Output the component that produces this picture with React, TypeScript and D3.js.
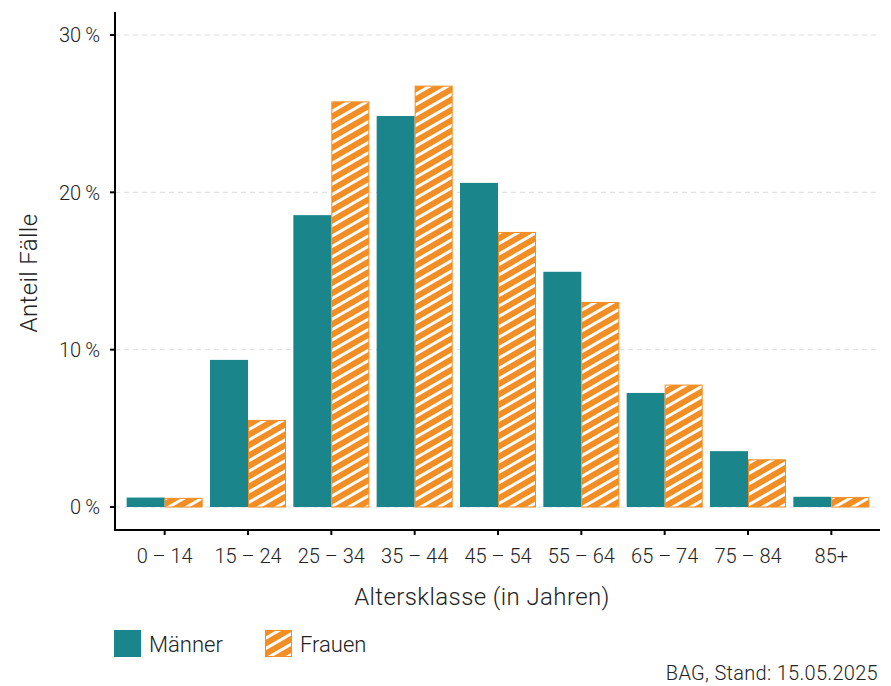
import React from "react";
import * as d3 from "d3";

const categories = ["0 – 14", "15 – 24", "25 – 34", "35 – 44", "45 – 54", "55 – 64", "65 – 74", "75 – 84", "85+"];
const maenner = [0.6, 9.35, 18.55, 24.85, 20.6, 14.95, 7.25, 3.55, 0.65];
const frauen = [0.55, 5.5, 25.75, 26.75, 17.45, 13.0, 7.75, 3.0, 0.6];
const yTicks = [0, 10, 20, 30];
const seriesNames = ["Männer", "Frauen"];

const W = 891, H = 686;
const TEAL = "#1a868c";
const ORANGE = "#f28e23";
const FONT = "Roboto, 'Open Sans', sans-serif";

export default function App() {
  const x = d3.scaleBand<string>().domain(categories).range([123, 873]).paddingInner(0.088).paddingOuter(0.044);
  const sub = d3.scaleBand<string>().domain(seriesNames).range([0, x.bandwidth()]);
  const y = d3.scaleLinear().domain([0, 30]).range([507, 35]);
  const axisX = 115, axisY = 530;
  const series = [maenner, frauen];
  return (
    <svg width={W} height={H} style={{ position: "absolute", left: 0, top: 0 }} fontFamily={FONT}>
      <defs>
        <pattern id="hatch" patternUnits="userSpaceOnUse" width="9" height="9" patternTransform="rotate(-30)">
          <rect width="9" height="9" fill={ORANGE} />
          <rect y="0" width="9" height="3" fill="#ffffff" />
        </pattern>
      </defs>
      <rect width={W} height={H} fill="#fff" />
      {yTicks.map((t) => (
        <line key={t} x1={axisX} x2={880} y1={y(t)} y2={y(t)} stroke="#dcdcdc" strokeWidth={1} strokeDasharray="5,4" />
      ))}
      {categories.map((c, i) =>
        series.map((s, k) => {
          const x0 = (x(c) as number) + (sub(seriesNames[k]) as number);
          const bw = sub.bandwidth();
          return k === 0 ? (
            <rect key={c + k} x={x0} y={y(s[i])} width={bw} height={y(0) - y(s[i])} fill={TEAL} />
          ) : (
            <rect key={c + k} x={x0 + 0.5} y={y(s[i])} width={bw - 1} height={y(0) - y(s[i])} fill="url(#hatch)" stroke={ORANGE} strokeWidth={1} />
          );
        })
      )}
      {/* axes */}
      <line x1={axisX} x2={axisX} y1={12} y2={axisY + 1} stroke="#000" strokeWidth={2} />
      <line x1={axisX - 1} x2={880} y1={axisY} y2={axisY} stroke="#000" strokeWidth={2} />
      {yTicks.map((t) => (
        <g key={t}>
          <line x1={axisX - 5} x2={axisX} y1={y(t)} y2={y(t)} stroke="#000" strokeWidth={2} />
          <text x={100} y={y(t)} dy="0.36em" textAnchor="end" fontSize={20} fontWeight={300} fill="#222">
            {t + "\u2009%"}
          </text>
        </g>
      ))}
      {categories.map((c) => {
        const cx = (x(c) as number) + x.bandwidth() / 2;
        return (
          <g key={c}>
            <line x1={cx} x2={cx} y1={axisY} y2={axisY + 5} stroke="#000" strokeWidth={2} />
            <text x={cx} y={563} textAnchor="middle" fontSize={20} fontWeight={300} fill="#222">
              {c}
            </text>
          </g>
        );
      })}
      <text transform="translate(37,273) rotate(-90)" textAnchor="middle" fontSize={24} fontWeight={300} letterSpacing={0.4} fill="#222">
        Anteil Fälle
      </text>
      <text x={482} y={605} textAnchor="middle" fontSize={24} fontWeight={300} letterSpacing={0.4} fill="#222">
        Altersklasse (in Jahren)
      </text>
      {/* legend */}
      <rect x={114} y={630} width={27} height={27} fill={TEAL} />
      <text x={149} y={652} fontSize={22} fontWeight={300} fill="#222">{seriesNames[0]}</text>
      <rect x={265.5} y={630.5} width={26} height={26} fill="url(#hatch)" stroke={ORANGE} strokeWidth={1} />
      <text x={300} y={652} fontSize={22} fontWeight={300} fill="#222">{seriesNames[1]}</text>
      <text x={878} y={680} textAnchor="end" fontSize={20} fontWeight={300} letterSpacing={0.3} fill="#222">
        BAG, Stand: 15.05.2025
      </text>
    </svg>
  );
}
